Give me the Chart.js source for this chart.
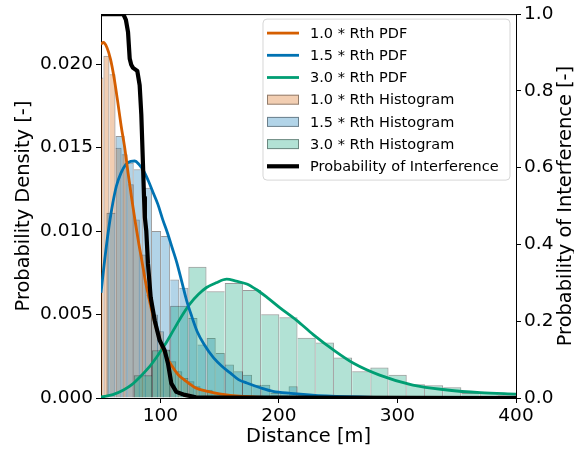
<!DOCTYPE html>
<html>
<head>
<meta charset="utf-8">
<script src="https://cdn.jsdelivr.net/npm/chart.js@4.4.0/dist/chart.umd.min.js"></script>
<style>
  html, body { margin: 0; padding: 0; background: #fff; }
  canvas { display: block; }
</style>
</head>
<body>
<canvas id="chart" width="574" height="449"></canvas>
<script>
// axis ticks
const xTicks = [100, 200, 300, 400];
const yTicks = [0, 0.005, 0.010, 0.015, 0.020];
const y2Ticks = [0, 0.2, 0.4, 0.6, 0.8, 1.0];

// fitted PDFs
const pdf10X = [50, 52, 55, 58, 61, 64, 67, 70, 73, 76, 79, 82, 85, 88, 91, 95, 100, 105, 110, 115, 120, 130, 140, 150, 170, 200, 250, 400];
const pdf10Y = [0.0212, 0.0213, 0.0210, 0.0203, 0.0192, 0.0178, 0.0163, 0.0150, 0.0134, 0.0119, 0.0105, 0.0092, 0.0080, 0.0068, 0.0058, 0.0046, 0.0034, 0.0025, 0.0019, 0.0014, 0.0011, 0.0006, 0.0004, 0.00025, 0.0001, 0.00003, 0.00001, 0];
const pdf15X = [50, 53, 56, 59, 63, 67, 71, 75, 78.5, 82, 86, 90, 94, 98, 102, 106, 110, 114, 118, 122, 126, 131, 137, 145, 152, 159, 166, 173, 185, 195, 210, 240, 280, 400];
const pdf15Y = [0.0063, 0.0082, 0.0099, 0.0113, 0.0127, 0.0135, 0.0140, 0.01418, 0.0142, 0.0140, 0.0136, 0.0130, 0.0123, 0.0116, 0.0107, 0.0099, 0.0090, 0.0081, 0.0070, 0.0059, 0.0050, 0.0040, 0.0032, 0.0024, 0.0019, 0.0015, 0.0011, 0.0009, 0.0006, 0.0004, 0.00028, 0.00012, 0.00004, 0];
const pdf30X = [50, 60, 69, 76, 83, 90, 97, 104, 111, 118, 125, 132, 139, 147, 156, 164, 173, 181, 190, 201, 215, 229, 246, 263, 285, 313, 342, 370, 400];
const pdf30Y = [0.00006, 0.0002, 0.00048, 0.0008, 0.00127, 0.0018, 0.00246, 0.0032, 0.00405, 0.0049, 0.00564, 0.0062, 0.00662, 0.0069, 0.00712, 0.0070, 0.00683, 0.0065, 0.00603, 0.0054, 0.00465, 0.0038, 0.00288, 0.00208, 0.00137, 0.00077, 0.00048, 0.00032, 0.00023];

// histograms: first bin edge, bin width [m], densities
const hist10Start = 46.9, hist10Width = 5.12;
const hist10 = [0.0192, 0.0205, 0.0194, 0.0150, 0.0146, 0.0128, 0.0107, 0.0086, 0.0062, 0.0050, 0.0040, 0.0029, 0.0022, 0.0016, 0.0012, 0.0010, 0.0007, 0.0005, 0.0005, 0.0003, 0.0002, 0.0002, 0.0001, 0.0001, 0];
const hist15Start = 46.9, hist15Width = 7.68;
const hist15 = [0, 0.0111, 0.0157, 0.0141, 0.0137, 0.0126, 0.0100, 0.0097, 0.0071, 0.0066, 0.0048, 0.0032, 0.0036, 0.0027, 0.0020, 0.0016, 0.0014, 0.0008, 0.0008, 0.0003, 0.0003, 0.0007, 0.0002, 0.0002, 0.0001, 0, 0.0001, 0];
const hist30Start = 46.9, hist30Width = 15.35;
const hist30 = [0, 0, 0.00137, 0.00286, 0.00553, 0.00786, 0.00639, 0.00689, 0.00647, 0.00502, 0.00484, 0.00361, 0.00332, 0.00242, 0.00161, 0.00183, 0.00140, 0.00083, 0.00077, 0.00064, 0.0003, 0.0003, 0.0002];

// probability of interference (right axis)
const probX = [50, 68.8, 71.0, 72.8, 74.2, 75.5, 77.0, 80.6, 82.6, 84.0, 85.4, 86.3, 87.0, 88.2, 89.6, 91.9, 95.3, 99.5, 103.7, 106.5, 109.3, 113.5, 120.6, 130, 400];
const probY = [1.0, 1.0, 0.985, 0.953, 0.884, 0.868, 0.860, 0.852, 0.815, 0.738, 0.609, 0.522, 0.470, 0.435, 0.350, 0.262, 0.202, 0.150, 0.124, 0.090, 0.038, 0.016, 0.008, 0.002, 0.0];

const ORANGE = '#D55E00', BLUE = '#0072B2', GREEN = '#009E73';

function pts(xs, ys) { return xs.map((x, i) => ({x: x, y: ys[i]})); }
function bins(start, width, ys) { return ys.map((y, i) => ({x: start + width * (i + 0.5), y: y})); }
function alpha(hex, a) {
    const n = parseInt(hex.slice(1), 16);
    return 'rgba(' + (n >> 16) + ',' + ((n >> 8) & 255) + ',' + (n & 255) + ',' + a + ')';
}

function pdfSet(label, xs, ys, color) {
    return {
        type: 'line', label: label, data: pts(xs, ys),
        borderColor: color, borderWidth: 2.8, pointRadius: 0,
        cubicInterpolationMode: 'monotone', xAxisID: 'x', yAxisID: 'y', order: 1
    };
}
// each shared bin edge is drawn once, by the taller of the two bars
function edgeWidth(ys) {
    return c => {
        const i = c.dataIndex, y = ys[i];
        const prev = i > 0 ? ys[i - 1] : 0, next = i < ys.length - 1 ? ys[i + 1] : 0;
        return {left: y >= prev ? 1 : 0, top: 1, right: y > next ? 1 : 0, bottom: 0};
    };
}
function histSet(label, start, width, ys, color, axis, order) {
    return {
        type: 'bar', label: label, data: bins(start, width, ys),
        backgroundColor: alpha(color, 0.3), borderColor: 'rgba(0,0,0,0.4)',
        borderWidth: edgeWidth(ys), borderSkipped: false,
        barPercentage: 1, categoryPercentage: 1, grouped: false, inflateAmount: 0,
        xAxisID: axis, yAxisID: 'y', order: order
    };
}

const tickFont = {family: 'DejaVu Sans', size: 18.5};
const titleFont = {family: 'DejaVu Sans', size: 19.4};
const tickGrid = {display: true, drawOnChartArea: false, drawTicks: true, tickLength: 5, tickColor: '#000', tickWidth: 1};
const hiddenX = {type: 'linear', min: 50, max: 400, display: false, offset: false, ticks: {maxTicksLimit: 2}};

const frame = {
    id: 'frame',
    afterDraw(chart) {
        const ctx = chart.ctx, ca = chart.chartArea;
        const sets = chart.data.datasets;
        ctx.save();
        // top spine
        ctx.strokeStyle = '#000';
        ctx.lineWidth = 1;
        ctx.beginPath();
        ctx.moveTo(ca.left, ca.top + 0.5);
        ctx.lineTo(ca.right, ca.top + 0.5);
        ctx.stroke();

        // right axis title, bottom to top
        ctx.save();
        ctx.translate(566, (ca.top + ca.bottom) / 2);
        ctx.rotate(-Math.PI / 2);
        ctx.font = '19.4px "DejaVu Sans"';
        ctx.fillStyle = '#000';
        ctx.textAlign = 'center';
        ctx.textBaseline = 'middle';
        ctx.fillText('Probability of Interference [-]', 0, 0);
        ctx.restore();

        // legend
        const w = 247, h = 161, rowH = 22.2, r = 4;
        const x0 = ca.right - 6 - w, y0 = ca.top + 5;
        ctx.beginPath();
        ctx.moveTo(x0 + r, y0);
        ctx.arcTo(x0 + w, y0, x0 + w, y0 + h, r);
        ctx.arcTo(x0 + w, y0 + h, x0, y0 + h, r);
        ctx.arcTo(x0, y0 + h, x0, y0, r);
        ctx.arcTo(x0, y0, x0 + w, y0, r);
        ctx.closePath();
        ctx.fillStyle = 'rgba(255,255,255,0.8)';
        ctx.fill();
        ctx.strokeStyle = 'rgba(204,204,204,0.8)';
        ctx.stroke();
        ctx.font = '14.5px "DejaVu Sans"';
        ctx.textAlign = 'left';
        ctx.textBaseline = 'middle';
        sets.forEach((ds, i) => {
            const cy = y0 + 14 + i * rowH;
            if (ds.type === 'bar') {
                ctx.fillStyle = ds.backgroundColor;
                ctx.fillRect(x0 + 4, cy - 5, 32, 10);
                ctx.strokeStyle = ds.borderColor;
                ctx.lineWidth = 1;
                ctx.strokeRect(x0 + 4.5, cy - 4.5, 31, 9);
            } else {
                ctx.strokeStyle = ds.borderColor;
                ctx.lineWidth = ds.borderWidth;
                ctx.beginPath();
                ctx.moveTo(x0 + 4, cy);
                ctx.lineTo(x0 + 36, cy);
                ctx.stroke();
            }
            ctx.fillStyle = '#000';
            ctx.fillText(ds.label, x0 + 47, cy + 1);
        });
        ctx.restore();
    }
};

new Chart(document.getElementById('chart').getContext('2d'), {
    type: 'line',
    data: {
        datasets: [
            pdfSet('1.0 * Rth PDF', pdf10X, pdf10Y, ORANGE),
            pdfSet('1.5 * Rth PDF', pdf15X, pdf15Y, BLUE),
            pdfSet('3.0 * Rth PDF', pdf30X, pdf30Y, GREEN),
            histSet('1.0 * Rth Histogram', hist10Start, hist10Width, hist10, ORANGE, 'x10', 4),
            histSet('1.5 * Rth Histogram', hist15Start, hist15Width, hist15, BLUE, 'x15', 3),
            histSet('3.0 * Rth Histogram', hist30Start, hist30Width, hist30, GREEN, 'x30', 2),
            {
                type: 'line', label: 'Probability of Interference', data: pts(probX, probY),
                borderColor: '#000', borderWidth: 4.2, pointRadius: 0, tension: 0,
                borderJoinStyle: 'round', xAxisID: 'x', yAxisID: 'y2', order: 0
            }
        ]
    },
    options: {
        responsive: false,
        animation: false,
        devicePixelRatio: 1,
        layout: {padding: {left: 0, right: 0, top: 12, bottom: 0}},
        plugins: {legend: {display: false}, tooltip: {enabled: false}},
        scales: {
            x: {
                type: 'linear', position: 'bottom', min: 50, max: 400, offset: false,
                afterBuildTicks: s => { s.ticks = xTicks.map(v => ({value: v})); },
                afterFit: s => { s.height = 51; },
                grid: tickGrid,
                border: {display: true, color: '#000', width: 1},
                ticks: {font: tickFont, color: '#000', padding: 2, maxRotation: 0, autoSkip: false},
                title: {display: true, text: 'Distance [m]', font: titleFont, color: '#000', padding: {top: 0, bottom: 0}}
            },
            x10: hiddenX,
            x15: hiddenX,
            x30: hiddenX,
            y: {
                type: 'linear', position: 'left', min: 0, max: 0.023,
                afterBuildTicks: s => { s.ticks = yTicks.map(v => ({value: v})); },
                afterFit: s => { s.width = 101; },
                grid: tickGrid,
                border: {display: true, color: '#000', width: 1},
                ticks: {font: tickFont, color: '#000', padding: 3, callback: v => v.toFixed(3)},
                title: {display: true, text: 'Probability Density [-]', font: titleFont, color: '#000', padding: {top: 12, bottom: 0}}
            },
            y2: {
                type: 'linear', position: 'right', min: 0, max: 1,
                afterBuildTicks: s => { s.ticks = y2Ticks.map(v => ({value: v})); },
                afterFit: s => { s.width = 58; },
                grid: tickGrid,
                border: {display: true, color: '#000', width: 1},
                ticks: {font: tickFont, color: '#000', padding: 3, callback: v => v.toFixed(1)}
            }
        }
    },
    plugins: [frame]
});
</script>
</body>
</html>
